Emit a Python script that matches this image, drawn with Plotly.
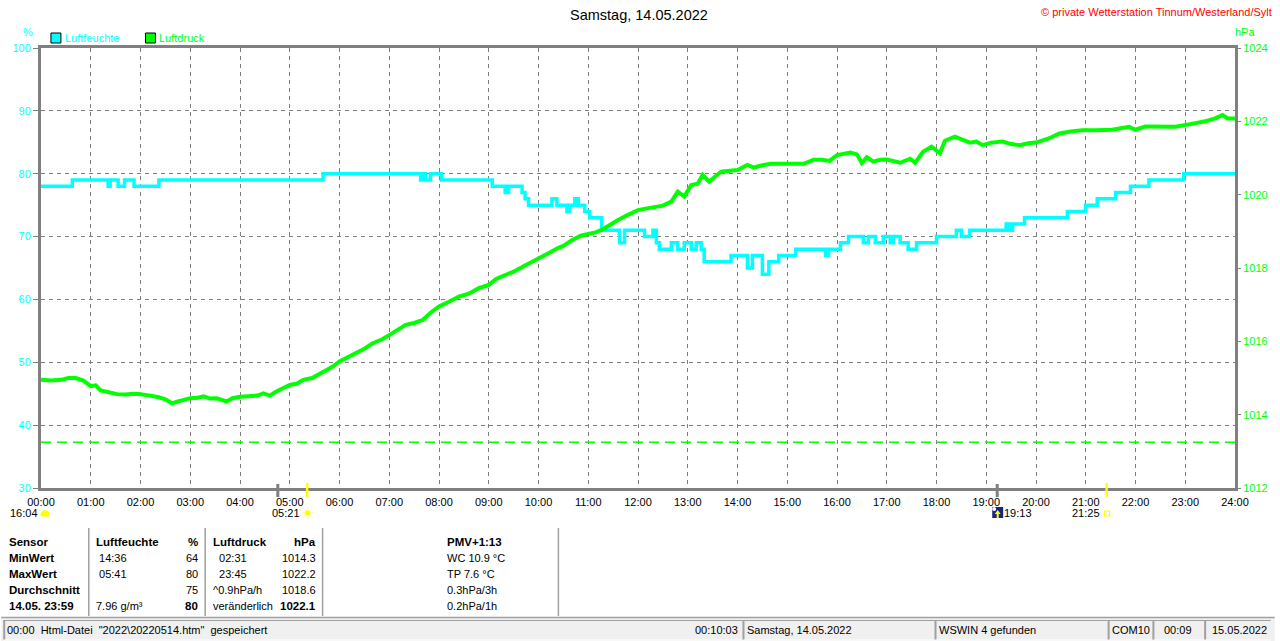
import plotly.graph_objects as go

# ---------------- data ----------------
hum_t = [0.00, 0.63, 1.35, 1.39, 1.55, 1.68, 1.87, 2.37, 5.67, 7.63, 7.67, 7.73, 7.83, 7.95, 8.05,
         9.07, 9.33, 9.40, 9.67, 9.73, 9.80, 10.27, 10.37, 10.57, 10.63, 10.73, 10.80, 10.93, 11.03,
         11.27, 11.63, 11.73, 12.13, 12.30, 12.37, 12.43, 12.67, 12.80, 12.93, 13.07, 13.17, 13.27,
         13.33, 13.87, 14.20, 14.30, 14.50, 14.63, 14.83, 15.17, 15.77, 15.83, 16.07, 16.23, 16.53,
         16.63, 16.77, 16.93, 17.07, 17.13, 17.27, 17.43, 17.60, 18.00, 18.40, 18.50, 18.67, 19.40,
         19.47, 19.53, 19.77, 20.63, 21.00, 21.23, 21.60, 21.90, 22.27, 22.97, 24.00]
hum_v = [78, 79, 78, 79, 78, 79, 78, 79, 80, 79, 80, 79, 80, 80, 79,
         78, 77, 78, 77, 76, 75, 76, 75, 74, 75, 76, 75, 74, 73,
         71, 69, 71, 70, 71, 69, 68, 69, 68, 69, 68, 69, 68,
         66, 67, 65, 67, 64, 66, 67, 68, 67, 68, 69, 70, 69,
         70, 69, 70, 69, 70, 69, 68, 69, 70, 71, 70, 71, 72,
         71, 72, 73, 74, 75, 76, 77, 78, 79, 80, 80]

pres_t = [0.0, 0.2, 0.4, 0.55, 0.7, 0.85, 1.0, 1.1, 1.2, 1.4, 1.53, 1.7, 1.85, 2.0, 2.2, 2.35, 2.5,
          2.63, 2.75, 2.9, 3.0, 3.15, 3.27, 3.4, 3.53, 3.73, 3.85, 4.0, 4.2, 4.35, 4.47, 4.6, 4.73,
          4.85, 5.0, 5.15, 5.27, 5.45, 5.67, 5.85, 6.0, 6.15, 6.33, 6.5, 6.67, 6.85, 7.0, 7.15, 7.33,
          7.5, 7.67, 7.85, 8.0, 8.2, 8.4, 8.6, 8.8, 9.0, 9.15, 9.33, 9.5, 9.7, 9.85, 10.0, 10.2, 10.4,
          10.5, 10.67, 10.85, 11.0, 11.15, 11.27, 11.45, 11.6, 11.8, 12.0, 12.15, 12.33, 12.5, 12.67,
          12.8, 12.93, 13.07, 13.2, 13.3, 13.43, 13.55, 13.67, 13.85, 14.0, 14.2, 14.33, 14.5, 14.67,
          15.0, 15.33, 15.53, 15.7, 15.85, 16.0, 16.27, 16.4, 16.5, 16.6, 16.73, 16.87, 17.0, 17.15,
          17.27, 17.47, 17.57, 17.73, 17.9, 18.07, 18.17, 18.37, 18.5, 18.67, 18.8, 18.93, 19.1,
          19.33, 19.5, 19.67, 19.85, 20.0, 20.27, 20.47, 20.7, 20.93, 21.2, 21.53, 21.87, 22.0, 22.2,
          22.53, 22.8, 23.13, 23.4, 23.6, 23.75, 23.85, 24.0]
pres_v = [1014.95, 1014.93, 1014.95, 1015.0, 1015.0, 1014.93, 1014.78, 1014.8, 1014.66, 1014.6,
          1014.56, 1014.55, 1014.57, 1014.56, 1014.52, 1014.48, 1014.42, 1014.31, 1014.36, 1014.4,
          1014.45, 1014.46, 1014.5, 1014.44, 1014.45, 1014.36, 1014.45, 1014.49, 1014.5, 1014.52,
          1014.58, 1014.52, 1014.63, 1014.7, 1014.81, 1014.85, 1014.95, 1015.0, 1015.15, 1015.3,
          1015.45, 1015.55, 1015.67, 1015.8, 1015.95, 1016.05, 1016.17, 1016.3, 1016.45, 1016.5,
          1016.58, 1016.8, 1016.95, 1017.08, 1017.22, 1017.3, 1017.45, 1017.54, 1017.7, 1017.81,
          1017.9, 1018.05, 1018.15, 1018.26, 1018.4, 1018.55, 1018.6, 1018.76, 1018.88, 1018.93,
          1018.97, 1019.04, 1019.2, 1019.31, 1019.45, 1019.58, 1019.62, 1019.67, 1019.7, 1019.81,
          1020.08, 1019.95, 1020.26, 1020.3, 1020.54, 1020.35, 1020.5, 1020.63, 1020.65, 1020.67,
          1020.81, 1020.74, 1020.8, 1020.84, 1020.84, 1020.84, 1020.95, 1020.95, 1020.92, 1021.08,
          1021.15, 1021.1, 1020.86, 1021.02, 1020.9, 1020.95, 1020.96, 1020.92, 1020.87, 1020.98,
          1020.87, 1021.17, 1021.31, 1021.13, 1021.47, 1021.58, 1021.5, 1021.42, 1021.45, 1021.35,
          1021.42, 1021.45, 1021.38, 1021.35, 1021.4, 1021.42, 1021.54, 1021.67, 1021.72, 1021.76,
          1021.76, 1021.77, 1021.85, 1021.77, 1021.86, 1021.85, 1021.85, 1021.93, 1022.0, 1022.08,
          1022.17, 1022.08, 1022.08]

ref_pressure = 1013.25
hour_ticks = list(range(0, 25))
hour_labels = [f"{h:02d}:00" for h in hour_ticks]
hum_ticks = [30, 40, 50, 60, 70, 80, 90, 100]
pres_ticks = [1012, 1014, 1016, 1018, 1020, 1022, 1024]

gray_events = [4.76, 19.22]
yellow_events = [5.35, 21.42]

table_rows = [
    ("<b>Sensor</b>", "<b>Luftfeuchte</b>", "<b>%</b>", "<b>Luftdruck</b>", "<b>hPa</b>", "<b>PMV+1:13</b>"),
    ("<b>MinWert</b>", " 14:36", "64", "  02:31", "1014.3", "WC 10.9 °C"),
    ("<b>MaxWert</b>", " 05:41", "80", "  23:45", "1022.2", "TP 7.6 °C"),
    ("<b>Durchschnitt</b>", "", "75", "^0.9hPa/h", "1018.6", "0.3hPa/3h"),
    ("<b>14.05. 23:59</b>", "7.96 g/m³", "<b>80</b>", "veränderlich", "<b>1022.1</b>", "0.2hPa/1h"),
]

CYAN = "#00ffff"
GREEN = "#00ff00"
GRAY = "#808080"
FONT = "Liberation Sans, Arial, sans-serif"

W, H = 1280, 641
L, R, T, B = 40, 1240, 48, 488


def px(x):
    return (x - L) / (R - L)


def py(y):
    return (B - y) / (B - T)


fig = go.Figure()
fig.add_trace(go.Scatter(x=pres_t, y=pres_v, yaxis="y2", mode="lines",
                         line=dict(color=GREEN, width=4), name="Luftdruck"))
fig.add_trace(go.Scatter(x=hum_t, y=hum_v, mode="lines", line_shape="hv",
                         line=dict(color=CYAN, width=3.5), name="Luftfeuchte"))

shapes = []
ann = []

# reference pressure line
shapes.append(dict(type="line", xref="paper", yref="y2", x0=0, x1=1, y0=ref_pressure, y1=ref_pressure,
                   line=dict(color=GREEN, width=1.5, dash="10px,6px")))

# event ticks below axis
for t in gray_events:
    shapes.append(dict(type="line", xref="x", yref="paper", x0=t, x1=t, y0=py(484), y1=py(497),
                       line=dict(color=GRAY, width=3)))
for t in yellow_events:
    shapes.append(dict(type="line", xref="x", yref="paper", x0=t, x1=t, y0=py(483), y1=py(497),
                       line=dict(color="#ffff00", width=2.5)))

# legend boxes
shapes.append(dict(type="rect", xref="paper", yref="paper", x0=px(50), x1=px(60), y0=py(43), y1=py(33),
                   fillcolor=CYAN, line=dict(color="black", width=1)))
shapes.append(dict(type="rect", xref="paper", yref="paper", x0=px(145), x1=px(155), y0=py(43), y1=py(33),
                   fillcolor=GREEN, line=dict(color="black", width=1)))


def text(x, y, s, color="black", size=11, anchor="left"):
    if anchor == "left":
        x -= 2
    elif anchor == "right":
        x += 2
    ann.append(dict(xref="paper", yref="paper", x=px(x), y=py(y), text=s, showarrow=False,
                    xanchor=anchor, yanchor="middle", font=dict(family=FONT, size=size, color=color)))


text(64, 38, "Luftfeuchte", CYAN)
text(159, 38, "Luftdruck", GREEN)
text(27, 32, "%", CYAN, anchor="center")
text(1250, 32, "hPa", GREEN, anchor="center")
text(641, 15, "Samstag, 14.05.2022", "black", 14.5, "center")
text(1277, 12, "© private Wetterstation Tinnum/Westerland/Sylt", "#ff0000", 11, "right")

# sun / moon labels
text(37, 513, "16:04", anchor="right")
shapes.append(dict(type="path", xref="paper", yref="paper",
                   path=f"M {px(40)} {py(516)} L {px(40)} {py(513)} Q {px(44)} {py(508)} {px(48)} {py(513)} L {px(48)} {py(516)} Z",
                   fillcolor="#ffff00", line=dict(color="#ffff00", width=1)))
text(300, 513, "05:21", anchor="right")
shapes.append(dict(type="circle", xref="paper", yref="paper", x0=px(305), x1=px(311), y0=py(516), y1=py(510),
                   fillcolor="#ffff00", line=dict(color="#ffff99", width=1)))
for dx0, dy0, dx1, dy1 in [(-6, 0, -4, 0), (4, 0, 6, 0), (0, -6, 0, -4), (0, 4, 0, 6),
                           (-5, -5, -3.5, -3.5), (3.5, 3.5, 5, 5), (-5, 5, -3.5, 3.5), (3.5, -3.5, 5, -5)]:
    shapes.append(dict(type="line", xref="paper", yref="paper", x0=px(308 + dx0), x1=px(308 + dx1),
                       y0=py(513 + dy0), y1=py(513 + dy1), line=dict(color="#ffff66", width=1)))
shapes.append(dict(type="rect", xref="paper", yref="paper", x0=px(996), x1=px(1007), y0=py(518), y1=py(507),
                   fillcolor="#1a237e", line=dict(width=0)))
shapes.append(dict(type="path", xref="paper", yref="paper",
                   path=f"M {px(1001.5)} {py(510)} L {px(998.5)} {py(514)} L {px(1000.5)} {py(514)} L {px(1000.5)} {py(518)} L {px(1002.5)} {py(518)} L {px(1002.5)} {py(514)} L {px(1004.5)} {py(514)} Z",
                   fillcolor="#ffff00", line=dict(width=0)))
shapes.append(dict(type="circle", xref="paper", yref="paper", x0=px(996), x1=px(1000), y0=py(511), y1=py(507),
                   fillcolor="white", line=dict(width=0)))
text(1008, 513, "19:13")
text(1104, 513, "21:25", anchor="right")
shapes.append(dict(type="rect", xref="paper", yref="paper", x0=px(1109), x1=px(1114), y0=py(516), y1=py(511),
                   fillcolor="white", line=dict(color="#ffff00", width=1.2)))

# table separators
for sx in [88, 205, 323, 560]:
    shapes.append(dict(type="line", xref="paper", yref="paper", x0=px(sx), x1=px(sx), y0=py(528), y1=py(616),
                       line=dict(color="#a0a0a0", width=1.5)))

row_y = [542, 558, 574, 590, 606]
for ry, row in zip(row_y, table_rows):
    c0, c1, c2, c3, c4, c5 = row
    text(8, ry, c0, size=11.5)
    text(95, ry, c1, size=11.5 if "<b>" in c1 else 11)
    text(198, ry, c2, size=11.5 if "<b>" in c2 else 11, anchor="right")
    text(213, ry, c3, size=11.5 if "<b>" in c3 else 11)
    text(316, ry, c4, size=11.5 if "<b>" in c4 else 11, anchor="right")
    text(448, ry, c5, size=11.5 if "<b>" in c5 else 11)

# status bar
shapes.append(dict(type="rect", xref="paper", yref="paper", x0=px(0), x1=px(1280), y0=py(641), y1=py(617),
                   fillcolor="#f0f0f0", line=dict(width=0)))
shapes.append(dict(type="line", xref="paper", yref="paper", x0=px(0), x1=px(1280), y0=py(617.5), y1=py(617.5),
                   line=dict(color="#a0a0a0", width=1.5)))
panels = [(2, 745), (745, 938), (938, 1112), (1112, 1157), (1157, 1209), (1209, 1276)]
for a, b in panels:
    shapes.append(dict(type="line", xref="paper", yref="paper", x0=px(a + 1), x1=px(a + 1), y0=py(620), y1=py(640),
                       line=dict(color="#a0a0a0", width=2)))
    shapes.append(dict(type="line", xref="paper", yref="paper", x0=px(a), x1=px(b), y0=py(620.5), y1=py(620.5),
                       line=dict(color="#a0a0a0", width=1)))
    shapes.append(dict(type="line", xref="paper", yref="paper", x0=px(a), x1=px(b), y0=py(640), y1=py(640),
                       line=dict(color="#ffffff", width=1)))
text(6, 630, '00:00  Html-Datei  "2022\\20220514.htm"  gespeichert')
text(741, 630, "00:10:03", anchor="right")
text(750, 630, "Samstag, 14.05.2022")
text(942, 630, "WSWIN 4 gefunden")
text(1116, 630, "COM10")
text(1183, 630, "00:09", anchor="center")
text(1217, 630, "15.05.2022")

fig.update_layout(
    width=W, height=H,
    margin=dict(l=L, r=W - R, t=T, b=H - B, pad=0),
    paper_bgcolor="white", plot_bgcolor="white",
    showlegend=False,
    font=dict(family=FONT, size=11, color="black"),
    xaxis=dict(range=[0, 24], tickvals=hour_ticks, ticktext=hour_labels,
               showgrid=True, gridcolor=GRAY, griddash="4px,4px", gridwidth=1,
               zeroline=False, showline=True, linecolor=GRAY, linewidth=3, mirror=True,
               ticks="outside", ticklen=2, tickcolor="rgba(0,0,0,0)",
               tickfont=dict(family=FONT, size=11, color="black")),
    yaxis=dict(range=[30, 100], tickvals=hum_ticks,
               showgrid=True, gridcolor=GRAY, griddash="4px,4px", gridwidth=1,
               zeroline=False, showline=True, linecolor=GRAY, linewidth=3, mirror=True,
               ticks="outside", ticklen=5, tickcolor=GRAY,
               tickfont=dict(family=FONT, size=11, color=CYAN)),
    yaxis2=dict(range=[1012, 1024], tickvals=pres_ticks, overlaying="y", side="right",
                showgrid=False, zeroline=False, showline=False,
                ticks="outside", ticklen=5, tickcolor=GRAY,
                tickfont=dict(family=FONT, size=11, color=GREEN)),
    shapes=shapes,
    annotations=ann,
)

fig.write_html("out.html", config={"displayModeBar": False},
               post_script="document.body.style.margin='0';document.body.style.overflow='hidden';")
